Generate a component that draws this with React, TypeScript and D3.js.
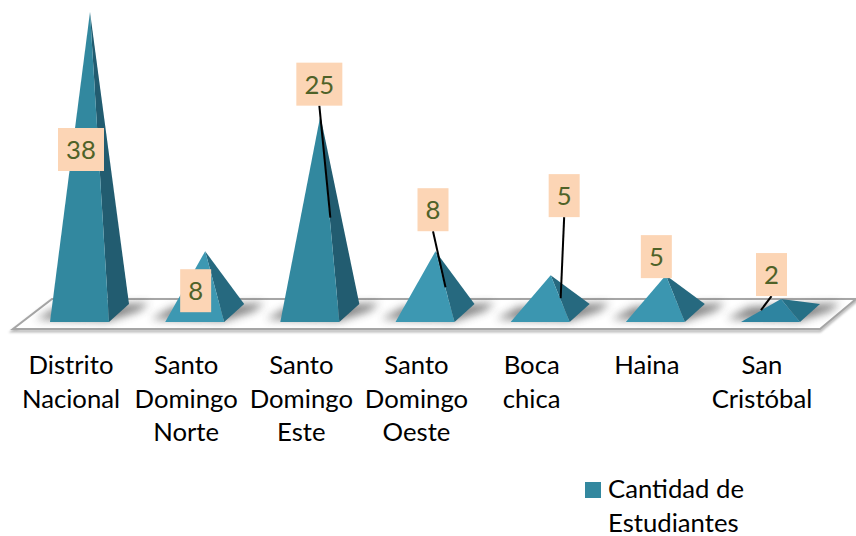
import React, { useRef, useEffect } from 'react';
import * as d3 from 'd3';

const categories = ['Distrito Nacional', 'Santo Domingo Norte', 'Santo Domingo Este', 'Santo Domingo Oeste', 'Boca chica', 'Haina', 'San Cristóbal'];
const values = [38, 8, 25, 8, 5, 5, 2];
const seriesName = 'Cantidad de Estudiantes';

const FONT = 'Lato, "Open Sans", sans-serif';
const FONT_SIZE = '25.7px';
const BASE_W = 59; // front edge of a pyramid
const APEX_DX = 40;
const DEPTH_DX = 20; // receding side, in px
const DEPTH_DY = 18;

// where each data label was dragged to, relative to the pyramid tip
const labelOffsets: [number, number][] = [[-9, 116], [-9.5, 18], [-1, -53], [-2.5, -63], [13.5, -101], [-9.5, -40], [-9.5, -46]];
// end of the leader line, relative to the tip (null = no leader)
const leaderEnds: ([number, number] | null)[] = [null, null, [10, 102], [10, 36], [10, 23], null, [-20, 11]];

const App: React.FC = () => {
    const svgRef = useRef<SVGSVGElement | null>(null);

    useEffect(() => {
        if (!svgRef.current) return;
        const svg = d3.select(svgRef.current);
        svg.selectAll('*').remove();

        const x = d3.scalePoint<string>().domain(categories).range([50, 741]);
        const y = d3.scaleLinear().domain([0, 38]).range([315, 12]);
        const baseY = 322;
        const faceColor = d3.scaleLinear<string>().domain([2, 5, 8, 25, 38]).range(['#2f84a0', '#3a96b0', '#3c98b2', '#33889f', '#33889f']);
        const sideColor = d3.scaleLinear<string>().domain([2, 5, 8, 25, 38]).range(['#266f86', '#26697f', '#26697f', '#225c70', '#225c70']);

        const defs = svg.append('defs');
        defs.append('filter').attr('id', 'soft').attr('x', '-30%').attr('y', '-60%').attr('width', '160%').attr('height', '220%')
            .append('feGaussianBlur').attr('stdDeviation', 4);
        defs.append('filter').attr('id', 'edge').attr('x', '-5%').attr('y', '-30%').attr('width', '110%').attr('height', '160%')
            .append('feGaussianBlur').attr('stdDeviation', 1);
        defs.append('filter').attr('id', 'aa')
            .append('feGaussianBlur').attr('stdDeviation', 0.4);

        // --- FLOOR ---
        const floor = d3.line()([[13, 329], [820, 329], [856, 299], [52, 299]]) + 'Z';
        svg.append('path').attr('d', floor).attr('transform', 'translate(0,2)').attr('fill', 'none')
            .attr('stroke', '#bbb').attr('stroke-width', 3).attr('filter', 'url(#edge)');
        svg.append('path').attr('d', floor).attr('fill', '#fff').attr('stroke', '#a6a6a6').attr('stroke-width', 2);

        // --- SHADOWS ---
        svg.append('g').selectAll('path')
            .data(categories)
            .join('path')
            .attr('d', c => {
                const l = x(c)!;
                return d3.line()([[l - 14, 319], [l + 8, 307], [l + BASE_W + DEPTH_DX + 20, 303], [l + BASE_W + DEPTH_DX + 10, 311], [l + BASE_W, 321]]) + 'Z';
            })
            .attr('fill', '#444')
            .attr('opacity', 0.65)
            .attr('filter', 'url(#soft)');

        // --- PYRAMIDS ---
        const pyramids = svg.append('g').attr('filter', 'url(#aa)');
        categories.forEach((c, i) => {
            const l = x(c)!;
            const tip: [number, number] = [l + APEX_DX, y(values[i])];
            pyramids.append('path')
                .attr('d', d3.line()([[l + BASE_W, baseY], [l + BASE_W + DEPTH_DX, baseY - DEPTH_DY], tip]) + 'Z')
                .attr('fill', sideColor(values[i]));
            pyramids.append('path')
                .attr('d', d3.line()([[l, baseY], [l + BASE_W, baseY], tip]) + 'Z')
                .attr('fill', faceColor(values[i]));
        });

        // --- LEADERS + DATA LABELS ---
        categories.forEach((c, i) => {
            const tipX = x(c)! + APEX_DX;
            const tipY = y(values[i]);
            const [dx, dy] = labelOffsets[i];
            const w = values[i] >= 10 ? 46 : 31;
            const h = 43;
            const cx = tipX + dx;
            const top = tipY + dy;
            const end = leaderEnds[i];
            if (end) {
                svg.append('line')
                    .attr('x1', cx).attr('y1', top + h)
                    .attr('x2', tipX + end[0]).attr('y2', tipY + end[1])
                    .attr('stroke', '#000').attr('stroke-width', 2);
            }
            svg.append('rect').attr('x', cx - w / 2).attr('y', top).attr('width', w).attr('height', h).attr('fill', '#fcd5b5');
            svg.append('text')
                .attr('x', cx).attr('y', top + 31)
                .attr('text-anchor', 'middle')
                .attr('fill', '#4f6228')
                .style('font-family', FONT).style('font-size', FONT_SIZE)
                .text(values[i]);
        });

        // --- CATEGORY LABELS ---
        const catLines = (c: string) => c.split(' ');
        categories.forEach(c => {
            const t = svg.append('text')
                .attr('text-anchor', 'middle')
                .attr('fill', '#000')
                .style('font-family', FONT).style('font-size', FONT_SIZE);
            catLines(c).forEach((line, j) => {
                t.append('tspan').attr('x', x(c)! + 21).attr('y', 374 + j * 33.5).text(line);
            });
        });

        // --- LEGEND ---
        svg.append('rect').attr('x', 585).attr('y', 482).attr('width', 16).attr('height', 16).attr('fill', '#33889f');
        const words = seriesName.split(' ');
        [words.slice(0, 2).join(' '), words.slice(2).join(' ')].forEach((line, j) => {
            svg.append('text')
                .attr('x', 608).attr('y', 498 + j * 34)
                .attr('fill', '#000')
                .style('font-family', FONT).style('font-size', FONT_SIZE)
                .text(line);
        });
    }, []);

    return (
        <svg ref={svgRef} width={856} height={536} style={{ position: 'absolute', left: 0, top: 0, background: '#fff' }}></svg>
    );
};

export default App;
